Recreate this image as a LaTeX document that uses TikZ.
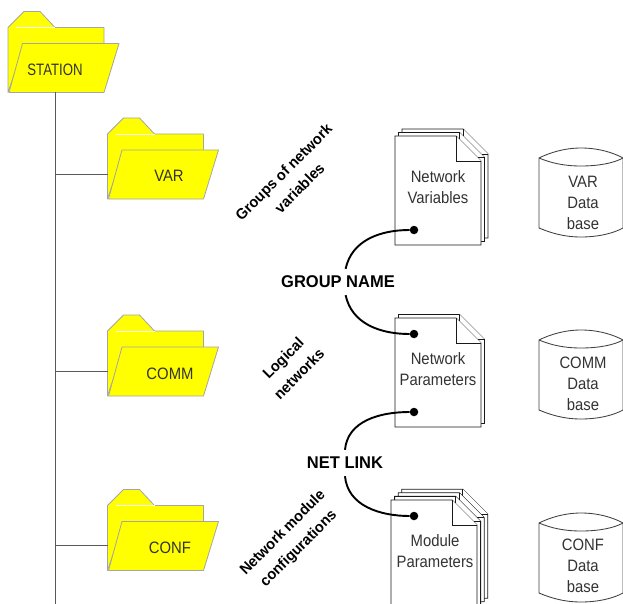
\documentclass[tikz,border=0pt]{standalone}
\usepackage{fontspec}
\setmainfont{Liberation Sans}
\newfontfamily\narrowfont[FakeStretch=0.8]{Liberation Sans}
\newfontfamily\plainfont[FakeStretch=0.9]{Liberation Sans}
\newfontfamily\labelfont[FakeStretch=0.97]{Liberation Sans}

\definecolor{folderyellow}{RGB}{255,255,0}
\definecolor{folderedge}{RGB}{165,165,165}

\tikzset{
  folderline/.style={draw=folderedge,fill=folderyellow,line width=0.8pt,line join=round},
  pageline/.style={draw=black!90,fill=white,line width=0.85pt},
  trunkline/.style={draw=black!65,line width=0.9pt},
  linkline/.style={draw=black,line width=1.9pt},
  linkdot/.style={circle,fill=black,inner sep=0pt,minimum size=8.5pt},
  plain/.style={font=\plainfont\fontsize{16.5}{21}\selectfont,text=black!80,align=center,inner sep=0pt},
  slanted/.style={font=\labelfont\bfseries\fontsize{15}{22.5}\selectfont,align=center,rotate=45,inner sep=0pt},
  linkname/.style={font=\labelfont\bfseries\fontsize{17}{20}\selectfont,inner xsep=0pt,minimum height=26pt},
  folder/.pic={
    \draw[folderline] (0,81) -- (0,16) -- (16,0) -- (32,0) -- (47,16) -- (96,16) -- (96,40) -- (14,40) -- cycle;
    \draw[white,line width=0.7pt] (8,16) -- (47,16);
    \draw[folderline] (14.5,32) -- (111,32) -- (96,81) -- (1,81) -- cycle;
    \coordinate (-west) at (0,56);
    \coordinate (-base) at (47.5,81);
  },
  docsheet/.pic={
    \draw[pageline] (0,0) -- (61,0) -- (86,25) -- (86,109) -- (0,109) -- cycle;
    \draw[pageline] (61,0) -- (61,25) -- (86,25);
  },
  database/.pic={
    \draw[pageline,draw=black!75] (0,10) -- (0,80)
      .. controls (12,85) and (25,89) .. (42,89)
      .. controls (60,89) and (75,85) .. (84,80) -- (84,10)
      .. controls (75,5) and (60,0) .. (42,0)
      .. controls (25,0) and (10,5) .. (0,10) -- cycle;
    \draw[draw=black!75,line width=0.85pt] (0,10)
      .. controls (12,15) and (25,18) .. (42,18)
      .. controls (60,18) and (75,15) .. (84,10);
  }
}

\begin{document}
\begin{tikzpicture}[x=1pt,y=-1pt]
    \clip (0,0) rectangle (623,604);
    \coordinate (trunkend) at (55.5,604);
    % folders
    \pic (stationf) at (8,11.5)    {folder};
    \pic (varf)     at (107.5,118) {folder};
    \pic (commf)    at (107.5,315) {folder};
    \pic (conff)    at (107.5,489.5) {folder};
    \node[plain,font=\narrowfont\fontsize{16.5}{21}\selectfont] (stationname) at (55,70) {STATION};
    \node[plain] (varname)     at (169,176)  {VAR};
    \node[plain] (commname)    at (170,374)  {COMM};
    \node[plain] (confname)    at (170,548)  {CONF};
    % tree lines
    \draw[trunkline] (stationf-base) -- (trunkend);
    \draw[trunkline] (varf-west)  -- (varf-west -| trunkend);
    \draw[trunkline] (commf-west) -- (commf-west -| trunkend);
    \draw[trunkline] (conff-west) -- (conff-west -| trunkend);
    % slanted labels
    \node[slanted] (groupslabel) at (291.5,180) {Groups of network\\variables};
    \node[slanted] (logiclabel)  at (291,366)   {Logical\\networks};
    \node[slanted] (modlabel)    at (291,541)   {Network module\\configurations};
    % parameter files
    \foreach \k in {2,1} \pic at (395+3.5*\k,136-3.5*\k) {docsheet};
    \pic at (395,136) {docsheet};
    \pic at (398.5,314.5) {docsheet};
    \pic at (395,318) {docsheet};
    \foreach \k in {3,2,1} \pic at (391+3.6*\k,500-3.6*\k) {docsheet};
    \pic at (391,500) {docsheet};
    \node[plain] (netvars)   at (438,187) {Network\\Variables};
    \node[plain] (netparams) at (438,369) {Network\\Parameters};
    \node[plain] (modparams) at (435,551) {Module\\Parameters};
    % data bases
    \pic at (539,148) {database};
    \pic at (539,330) {database};
    \pic at (539,513) {database};
    \node[plain] (vardb)  at (583,203) {VAR\\Data\\base};
    \node[plain] (commdb) at (583,384) {COMM\\Data\\base};
    \node[plain] (confdb) at (583,566) {CONF\\Data\\base};
    % links
    \node[linkname] (groupname) at (338,282) {GROUP NAME};
    \node[linkname] (netlink)   at (345,463) {NET LINK};
    \node[linkdot] (vardot)   at (414,230) {};
    \node[linkdot] (paramtop) at (414,334) {};
    \node[linkdot] (parambot) at (414,412) {};
    \node[linkdot] (moddot)   at (414,516) {};
    \path[linkline]
    (vardot)   edge [out=180,in=78]   (groupname.60)
    (paramtop) edge [out=180,in=-78]  (groupname.-60)
    (parambot) edge [out=180,in=85]   (netlink.north)
    (moddot)   edge [out=180,in=-85]  (netlink.south);
\end{tikzpicture}
\end{document}
